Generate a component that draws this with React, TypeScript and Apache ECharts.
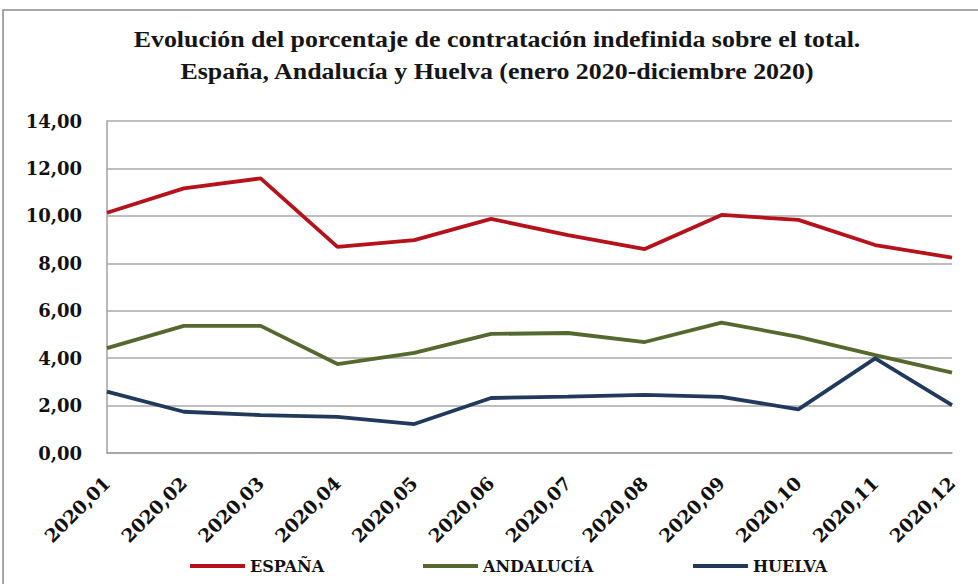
import React, { useEffect, useRef } from "react";
import * as echarts from "echarts";

const categories = ["2020,01", "2020,02", "2020,03", "2020,04", "2020,05", "2020,06", "2020,07", "2020,08", "2020,09", "2020,10", "2020,11", "2020,12"];
const espana = [10.13, 11.16, 11.58, 8.69, 8.98, 9.87, 9.19, 8.6, 10.04, 9.83, 8.77, 8.24];
const andalucia = [4.42, 5.36, 5.36, 3.75, 4.22, 5.02, 5.06, 4.68, 5.5, 4.9, 4.13, 3.39];
const huelva = [2.59, 1.74, 1.6, 1.52, 1.22, 2.32, 2.38, 2.45, 2.37, 1.84, 3.99, 2.02];
const seriesNames = ["ESPAÑA", "ANDALUCÍA", "HUELVA"];
const colors = ["#B5121B", "#55692E", "#213A5C"];
const titleLines = [
  "Evolución del porcentaje de contratación indefinida sobre el total.",
  "España, Andalucía y Huelva (enero 2020-diciembre 2020)",
];

const labelFont = "DejaVu Serif";
const legendLefts = [190, 423, 693];

export default function App() {
  const ref = useRef<HTMLDivElement>(null);
  useEffect(() => {
    if (!ref.current) return;
    const chart = echarts.init(ref.current, null, { renderer: "svg" });
    const data = [espana, andalucia, huelva];
    chart.setOption({
      animation: false,
      backgroundColor: "#ffffff",
      graphic: [
        {
          type: "rect",
          shape: { x: 3, y: 10, width: 1000, height: 600 },
          style: { fill: "none", stroke: "#8a8a8a", lineWidth: 1.5 },
          silent: true,
        },
        {
          type: "text",
          x: 497,
          y: 23,
          scaleX: 1.08,
          style: {
            text: titleLines.join("\n"),
            textAlign: "center",
            fontFamily: "Liberation Serif",
            fontWeight: "bold",
            fontSize: 24,
            lineHeight: 32,
            fill: "#151515",
          },
        },
      ],
      grid: { left: 107, right: 26, top: 121, bottom: 131 },
      legend: seriesNames.map((name, i) => ({
        bottom: 5,
        left: legendLefts[i],
        padding: [5, 0, 5, 0],
        icon: "rect",
        itemWidth: 55,
        itemHeight: 4,
        data: [name],
        textStyle: {
          fontFamily: labelFont,
          fontWeight: "bold",
          fontSize: 16,
          color: "#111",
        },
      })),
      xAxis: {
        type: "category",
        data: categories,
        boundaryGap: false,
        axisLine: { lineStyle: { color: "#a0a0a0", width: 1.5 } },
        axisTick: { show: false },
        axisLabel: {
          rotate: 45,
          margin: 27,
          interval: 0,
          fontFamily: labelFont,
          fontWeight: "bold",
          fontSize: 18.5,
          color: "#111",
        },
      },
      yAxis: {
        type: "value",
        min: 0,
        max: 14,
        interval: 2,
        axisLine: { show: true, lineStyle: { color: "#a0a0a0", width: 1.5 } },
        axisTick: { show: false },
        splitLine: { lineStyle: { color: "#a8a8a8", width: 1.5 } },
        axisLabel: {
          margin: 25,
          formatter: (v: number) => v.toFixed(2).replace(".", ","),
          fontFamily: labelFont,
          fontWeight: "bold",
          fontSize: 18,
          color: "#111",
        },
      },
      series: seriesNames.map((name, i) => ({
        name,
        type: "line",
        data: data[i],
        symbol: "none",
        lineStyle: { color: colors[i], width: 3.8 },
        itemStyle: { color: colors[i] },
      })),
    });
    return () => chart.dispose();
  }, []);
  return (
    <div
      ref={ref}
      style={{ position: "fixed", left: 0, top: 0, width: 978, height: 584 }}
    />
  );
}
